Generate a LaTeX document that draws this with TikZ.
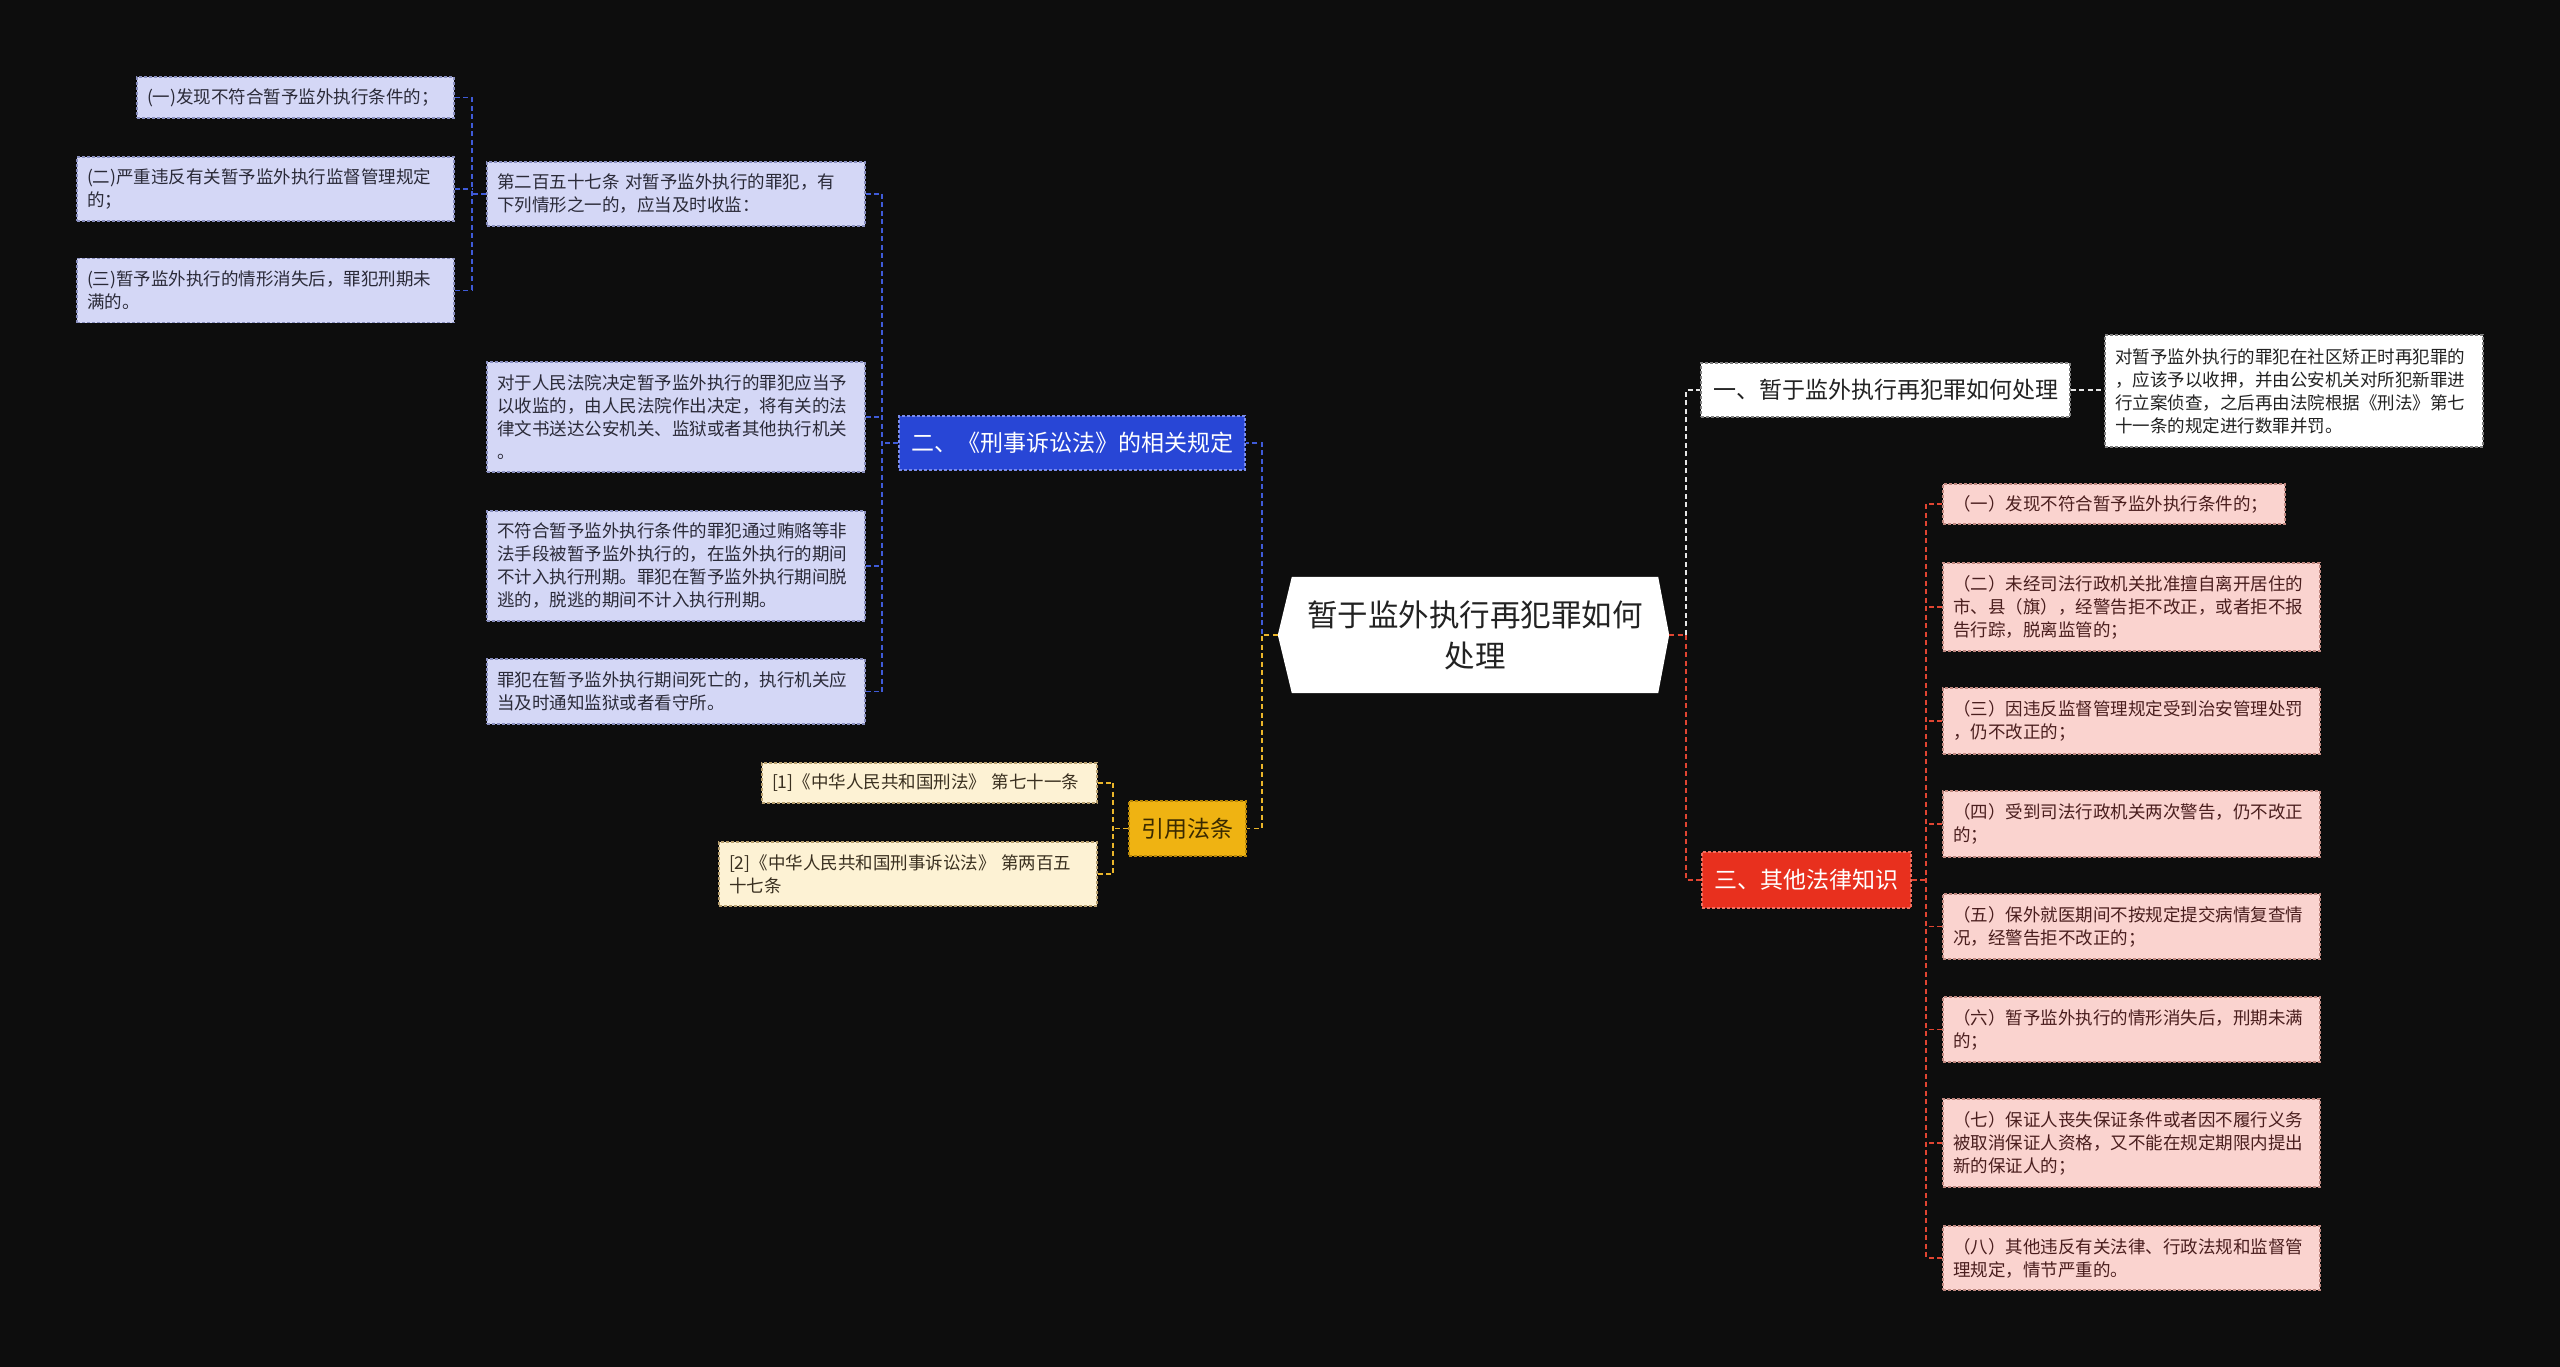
\documentclass[tikz,border=0pt]{standalone}
\usepackage{fontspec}
\setmainfont{Noto Sans CJK SC}
\usetikzlibrary{calc,backgrounds}
\definecolor{bgc}{HTML}{0D0D0D}
\definecolor{lavF}{HTML}{D4D7F6}
\definecolor{lavD}{HTML}{8A90C0}
\definecolor{lavT}{HTML}{2A2A38}
\definecolor{blueF}{HTML}{2846D6}
\definecolor{blueD}{HTML}{7A8CEB}
\definecolor{blueL}{HTML}{3F5BD8}
\definecolor{goldF}{HTML}{EFB312}
\definecolor{goldD}{HTML}{B88708}
\definecolor{goldT}{HTML}{3A2A00}
\definecolor{creamF}{HTML}{FDF2D4}
\definecolor{creamD}{HTML}{B8A070}
\definecolor{creamT}{HTML}{3A3020}
\definecolor{yelL}{HTML}{EAB52A}
\definecolor{whiteL}{HTML}{E6E6E6}
\definecolor{darkT}{HTML}{222222}
\definecolor{redF}{HTML}{E8301E}
\definecolor{redD}{HTML}{F07060}
\definecolor{redL}{HTML}{E04532}
\definecolor{pinkF}{HTML}{FAD3CF}
\definecolor{pinkD}{HTML}{C08880}
\definecolor{pinkT}{HTML}{4A1E1E}
\newcommand\bodyfs{\fontsize{17.5}{23}\selectfont}
\newcommand\midfs{\fontsize{23}{28}\selectfont}
\newcommand\ctrfs{\fontsize{30.5}{41}\selectfont}
\tikzset{
  box/.style={draw, dash pattern=on 3pt off 2pt, line width=1.2pt, inner xsep=10pt, inner ysep=0pt, align=left, font=\bodyfs},
  lav/.style={box, fill=lavF, draw=lavD, text=lavT},
  cream/.style={box, fill=creamF, draw=creamD, text=creamT},
  pink/.style={box, fill=pinkF, draw=pinkD, text=pinkT},
  wbox/.style={box, fill=white, draw=gray, text=darkT},
  mid/.style={draw, dash pattern=on 3pt off 2pt, line width=1.2pt, inner sep=0pt, align=center, font=\midfs},
  conn/.style={line width=1.8pt, dash pattern=on 5pt off 3.5pt},
  bl/.style={conn, draw=blueL},
  yl/.style={conn, draw=yelL},
  wl/.style={conn, draw=whiteL},
  rl/.style={conn, draw=redL}
}
\begin{document}
\begin{tikzpicture}[x=1pt,y=-1pt]
\useasboundingbox (0,0) rectangle (2560,1367);
\begin{scope}[on background layer]
\fill[bgc] (0,0) rectangle (2560,1367);
\end{scope}

% trunk coordinates
\coordinate (tL) at (472,0);
\coordinate (tA) at (882,0);
\coordinate (tRef) at (1113,0);
\coordinate (tCL) at (1262,0);
\coordinate (tCR) at (1686,0);
\coordinate (tE) at (1926,0);

% center
\node[minimum width=366pt, minimum height=116pt, inner sep=0pt, align=center, font=\ctrfs, text=darkT] (ctr) at (1475,635) {暂于监外执行再犯罪如何\\处理};
\coordinate (ctrW) at ($(ctr.west)+(-14,0)$);
\coordinate (ctrE) at ($(ctr.east)+(11,0)$);
\begin{scope}[on background layer]
\fill[white] (ctr.north west) -- (ctr.north east) -- (ctrE) -- (ctr.south east) -- (ctr.south west) -- (ctrW) -- cycle;
\end{scope}

% left branch: criminal procedure law
\node[mid, fill=blueF, draw=blueD, text=white, minimum width=346pt, minimum height=54pt] (B) at (1072,443) {二、《刑事诉讼法》的相关规定};
\node[lav, text width=358pt, minimum height=64pt] (A1) at (676,194) {第二百五十七条~对暂予监外执行的罪犯，有\\下列情形之一的，应当及时收监：};
\node[lav, text width=358pt, minimum height=110pt] (A2) at (676,417) {对于人民法院决定暂予监外执行的罪犯应当予\\以收监的，由人民法院作出决定，将有关的法\\律文书送达公安机关、监狱或者其他执行机关\\。};
\node[lav, text width=358pt, minimum height=110pt] (A3) at (676,566) {不符合暂予监外执行条件的罪犯通过贿赂等非\\法手段被暂予监外执行的，在监外执行的期间\\不计入执行刑期。罪犯在暂予监外执行期间脱\\逃的，脱逃的期间不计入执行刑期。};
\node[lav, text width=358pt, minimum height=65pt] (A4) at (676,691.5) {罪犯在暂予监外执行期间死亡的，执行机关应\\当及时通知监狱或者看守所。};
\node[lav, text width=297pt, minimum height=41pt] (L1) at (295.5,97.5) {(一)发现不符合暂予监外执行条件的；};
\node[lav, text width=357pt, minimum height=64pt] (L2) at (265.5,189) {(二)严重违反有关暂予监外执行监督管理规定\\的；};
\node[lav, text width=357pt, minimum height=64pt] (L3) at (265.5,290.5) {(三)暂予监外执行的情形消失后，罪犯刑期未\\满的。};

% left branch: cited laws
\node[mid, fill=goldF, draw=goldD, text=goldT, minimum width=117pt, minimum height=55pt] (C) at (1187.5,828.5) {引用法条};
\node[cream, text width=315pt, minimum height=40pt] (R1) at (929.5,783) {[1]《中华人民共和国刑法》~第七十一条};
\node[cream, text width=358pt, minimum height=64pt] (R2) at (908,874) {[2]《中华人民共和国刑事诉讼法》~第两百五\\十七条};

% right branch
\node[mid, fill=white, draw=gray, text=darkT, minimum width=369pt, minimum height=54pt] (D) at (1885.5,390) {一、暂于监外执行再犯罪如何处理};
\node[wbox, text width=358pt, minimum height=112pt] (D1) at (2294,391) {对暂予监外执行的罪犯在社区矫正时再犯罪的\\，应该予以收押，并由公安机关对所犯新罪进\\行立案侦查，之后再由法院根据《刑法》第七\\十一条的规定进行数罪并罚。};
\node[mid, fill=redF, draw=redD, text=white, minimum width=209pt, minimum height=56pt] (E) at (1806.5,880) {三、其他法律知识};
\node[pink, text width=322pt, minimum height=40pt] (E1) at (2114,504) {（一）发现不符合暂予监外执行条件的；};
\node[pink, text width=357pt, minimum height=88pt] (E2) at (2131.5,607) {（二）未经司法行政机关批准擅自离开居住的\\市、县（旗），经警告拒不改正，或者拒不报\\告行踪，脱离监管的；};
\node[pink, text width=357pt, minimum height=66pt] (E3) at (2131.5,721) {（三）因违反监督管理规定受到治安管理处罚\\，仍不改正的；};
\node[pink, text width=357pt, minimum height=66pt] (E4) at (2131.5,824) {（四）受到司法行政机关两次警告，仍不改正\\的；};
\node[pink, text width=357pt, minimum height=65pt] (E5) at (2131.5,926.5) {（五）保外就医期间不按规定提交病情复查情\\况，经警告拒不改正的；};
\node[pink, text width=357pt, minimum height=65pt] (E6) at (2131.5,1029.5) {（六）暂予监外执行的情形消失后，刑期未满\\的；};
\node[pink, text width=357pt, minimum height=88pt] (E7) at (2131.5,1143) {（七）保证人丧失保证条件或者因不履行义务\\被取消保证人资格，又不能在规定期限内提出\\新的保证人的；};
\node[pink, text width=357pt, minimum height=64pt] (E8) at (2131.5,1258) {（八）其他违反有关法律、行政法规和监督管\\理规定，情节严重的。};

% connectors: center to main branches
\draw[bl] (ctrW) -- (ctrW -| tCL) |- (B.east);
\draw[yl] (ctrW) -- (ctrW -| tCL) |- (C.east);
\draw[wl] (ctrE) -- (ctrE -| tCR) |- (D.west);
\draw[rl] (ctrE) -- (ctrE -| tCR) |- (E.west);

% B group
\draw[bl] (A1.east -| tA) -- (A4.east -| tA);
\draw[bl] (B.west) -- (B.west -| tA);
\foreach \n in {A1,A2,A3,A4} \draw[bl] (\n.east) -- (\n.east -| tA);
% L group
\draw[bl] (L1.east -| tL) -- (L3.east -| tL);
\draw[bl] (A1.west) -- (A1.west -| tL);
\foreach \n in {L1,L2,L3} \draw[bl] (\n.east) -- (\n.east -| tL);
% C group
\draw[yl] (R1.east -| tRef) -- (R2.east -| tRef);
\draw[yl] (C.west) -- (C.west -| tRef);
\foreach \n in {R1,R2} \draw[yl] (\n.east) -- (\n.east -| tRef);
% D group
\draw[wl] (D.east) -- (D.east -| D1.west);
% E group
\draw[rl] (E1.west -| tE) -- (E8.west -| tE);
\draw[rl] (E.east) -- (E.east -| tE);
\foreach \n in {E1,E2,E3,E4,E5,E6,E7,E8} \draw[rl] (\n.west) -- (\n.west -| tE);
\end{tikzpicture}
\end{document}
